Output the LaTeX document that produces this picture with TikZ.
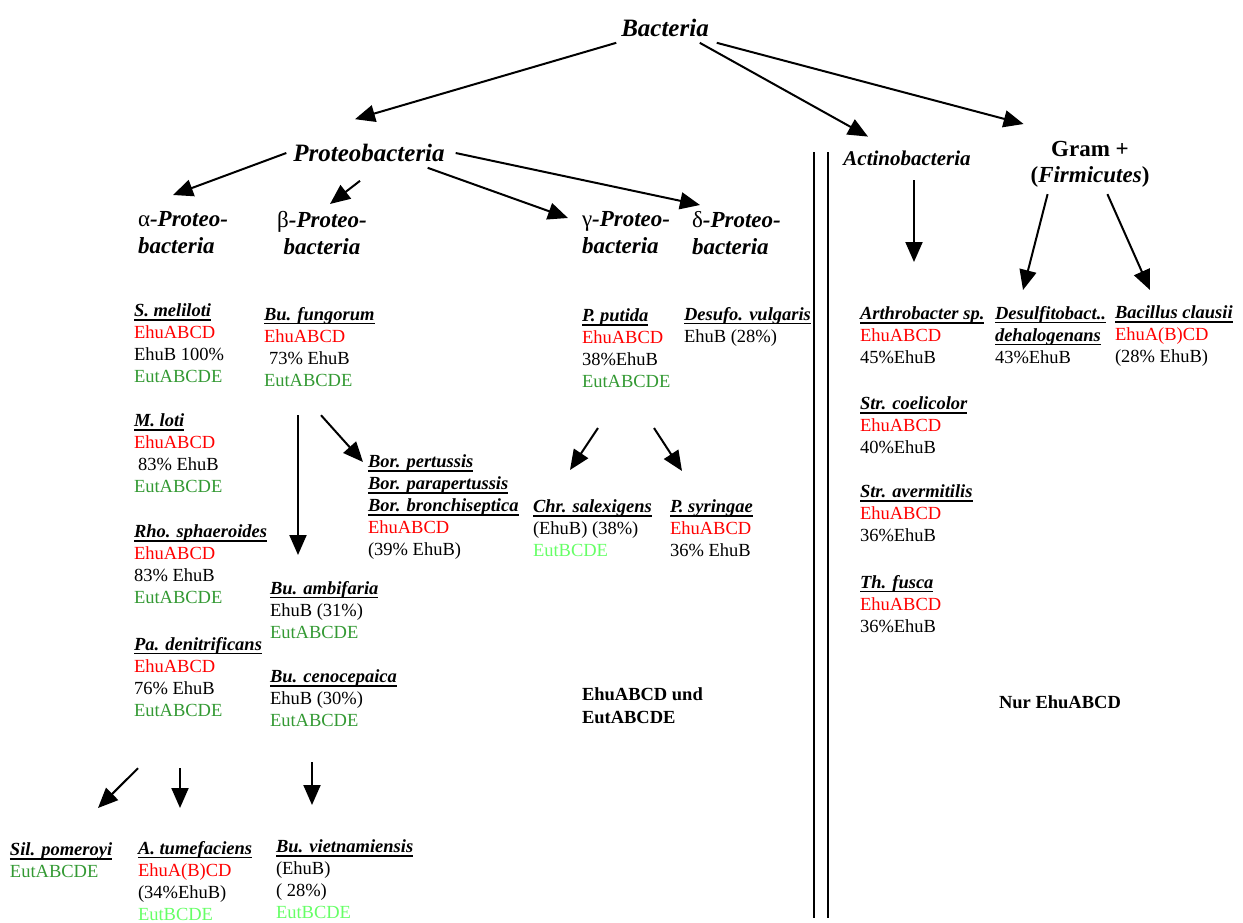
\documentclass[tikz,border=0pt]{standalone}
\usepackage{fontspec}
\setmainfont{Liberation Serif}
\usetikzlibrary{arrows.meta}

\definecolor{ehured}{RGB}{255,0,0}
\definecolor{eutgreen}{RGB}{51,153,51}
\definecolor{eutlight}{RGB}{102,255,102}

% underlined species name
\newcommand\taxon[1]{\sbox0{\bfseries\itshape #1}\rlap{\usebox0}\rule[-2.2pt]{\wd0}{0.9pt}}
\newcommand\ehu[1]{\textcolor{ehured}{#1}}
\newcommand\eut[1]{\textcolor{eutgreen}{#1}}
\newcommand\eutl[1]{\textcolor{eutlight}{#1}}

\begin{document}
\begin{tikzpicture}[x=0.5pt,y=-0.5pt]
\tikzset{ >={Triangle[length=10pt,width=8.5pt]}, inner sep=0pt, outer sep=0pt,
  arr/.style={->, line width=1pt},
  head/.style={font=\fontsize{12.5pt}{14pt}\selectfont\bfseries\itshape},
  sub/.style={font=\fontsize{11.5pt}{13.5pt}\selectfont\bfseries\itshape, align=left, anchor=north west},
  org/.style={font=\fontsize{9.25pt}{11pt}\selectfont, align=left, anchor=north west},
}
\useasboundingbox (0,0) rectangle (1243,922);

% phyla
\node [head] (bact)   at (665,28)  {Bacteria};
\node [head] (proteo) at (369,153) {Proteobacteria};
\node [font=\fontsize{10.5pt}{12pt}\selectfont\bfseries\itshape] (actino) at (907,158) {Actinobacteria};
\node [font=\fontsize{11.5pt}{13pt}\selectfont\bfseries, align=center, anchor=north] (gram) at (1090,141) {Gram +\\(\textit{Firmicutes})};

\node [sub] (alpha) at (138,211) {{\normalfont α}-Proteo-\\bacteria};
\node [sub, align=center, anchor=north] (beta) at (322,211) {{\normalfont β}-Proteo-\\bacteria};
\node [sub] (gamma) at (582,211) {{\normalfont γ}-Proteo-\\bacteria};
\node [sub] (delta) at (692,211) {{\normalfont δ}-Proteo-\\bacteria};

% alpha
\node [org] (smel) at (134,304) {\taxon{S. meliloti}\\\ehu{EhuABCD}\\EhuB 100\%\\\eut{EutABCDE}};
\node [org] (mloti) at (134,414) {\taxon{M. loti}\\\ehu{EhuABCD}\\\hspace{2pt}83\% EhuB\\\eut{EutABCDE}};
\node [org] (rho) at (134,525) {\taxon{Rho. sphaeroides}\\\ehu{EhuABCD}\\83\% EhuB\\\eut{EutABCDE}};
\node [org] (pad) at (134,637) {\taxon{Pa. denitrificans}\\\ehu{EhuABCD}\\76\% EhuB\\\eut{EutABCDE}};
\node [org] (sil) at (10,843) {\taxon{Sil. pomeroyi}\\\eut{EutABCDE}};
\node [org] (atum) at (138,841) {\taxon{A. tumefaciens}\\\ehu{EhuA(B)CD}\\(34\%EhuB)\\\eutl{EutBCDE}};

% beta
\node [org] (fung) at (264,307) {\taxon{Bu. fungorum}\\\ehu{EhuABCD}\\\hspace{2.5pt}73\% EhuB\\\eut{EutABCDE}};
\node [org] (bor) at (368,455) {\taxon{Bor. pertussis}\\\taxon{Bor. parapertussis}\\\taxon{Bor. bronchiseptica}\\\ehu{EhuABCD}\\(39\% EhuB)};
\node [org] (ambi) at (270,581) {\taxon{Bu. ambifaria}\\EhuB (31\%)\\\eut{EutABCDE}};
\node [org] (ceno) at (270,670) {\taxon{Bu. cenocepaica}\\EhuB (30\%)\\\eut{EutABCDE}};
\node [org] (viet) at (276,840) {\taxon{Bu. vietnamiensis}\\(EhuB)\\( 28\%)\\\eutl{EutBCDE}};

% gamma, delta
\node [org] (putida) at (582,309) {\taxon{P. putida}\\\ehu{EhuABCD}\\38\%EhuB\\\eut{EutABCDE}};
\node [org] (desufo) at (684,307) {\taxon{Desufo. vulgaris}\\EhuB (28\%)};
\node [org] (chr) at (533,500) {\taxon{Chr. salexigens}\\(EhuB) (38\%)\\\eutl{EutBCDE}};
\node [org] (syr) at (670,500) {\taxon{P. syringae}\\\ehu{EhuABCD}\\36\% EhuB};

% gram positives
\node [org] (arthro) at (860,307) {\taxon{Arthrobacter sp.}\\\ehu{EhuABCD}\\45\%EhuB};
\node [org] (coeli) at (860,397) {\taxon{Str. coelicolor}\\\ehu{EhuABCD}\\40\%EhuB};
\node [org] (averm) at (860,485) {\taxon{Str. avermitilis}\\\ehu{EhuABCD}\\36\%EhuB};
\node [org] (fusca) at (860,575) {\taxon{Th. fusca}\\\ehu{EhuABCD}\\36\%EhuB};
\node [org] (desulf) at (995,306) {\taxon{Desulfitobact..}\\\taxon{dehalogenans}\\43\%EhuB};
\node [org] (bacil) at (1115,306) {\taxon{Bacillus clausii}\\\ehu{EhuA(B)CD}\\(28\% EhuB)};

\node [org, font=\fontsize{9.25pt}{11.5pt}\selectfont\bfseries] (both) at (582,688) {EhuABCD und\\EutABCDE};
\node [font=\fontsize{9.25pt}{11pt}\selectfont\bfseries] (only) at (1060,702) {Nur EhuABCD};

% arrows
\draw [arr] ([shift={(-5,6)}]bact.south west) -- ([shift={(-14,-25)}]proteo.north);
\draw [arr] ([shift={(-9,6)}]bact.south east) -- ([shift={(-39,-14)}]actino.north);
\draw [arr] ([shift={(8,6)}]bact.south east)  -- ([shift={(-7,-17)}]gram.north west);

\draw [arr] ([shift={(-7,0)}]proteo.west)       -- ([shift={(-10,-16)}]alpha.north);
\draw [arr] ([shift={(-9,19)}]proteo.south)     -- ([shift={(8,-7)}]beta.north);
\draw [arr] ([shift={(-17,6)}]proteo.south east) -- ([shift={(-14,7)}]gamma.north west);
\draw [arr] ([shift={(11,0)}]proteo.east)       -- ([shift={(8,-6)}]delta.north west);

\draw [arr] ([shift={(7,15)}]actino.south)      -- ([shift={(54,-45)}]arthro.north west);
\draw [arr] ([shift={(17,7)}]gram.south west)   -- ([shift={(28,-16)}]desulf.north west);
\draw [arr] ([shift={(-42,7)}]gram.south east)  -- ([shift={(35,-16)}]bacil.north west);

\draw [arr] ([shift={(34,29)}]fung.south west)  -- ([shift={(28,-26)}]ambi.north west);
\draw [arr] ([shift={(57,29)}]fung.south west)  -- ([shift={(-5,7)}]bor.north west);
\draw [arr] ([shift={(16,40)}]putida.south west) -- ([shift={(37,-30)}]chr.north west);
\draw [arr] ([shift={(72,40)}]putida.south west) -- ([shift={(12,-29)}]syr.north west);
\draw [arr] ([shift={(4,52)}]pad.south west)    -- ([shift={(88,-35)}]sil.north west);
\draw [arr] ([shift={(46,52)}]pad.south west)   -- ([shift={(42,-33)}]atum.north west);
\draw [arr] ([shift={(42,35)}]ceno.south west)  -- ([shift={(36,-35)}]viet.north west);

% divider
\draw [line width=1pt] (814,152) -- (814,918);
\draw [line width=1pt] (828,152) -- (828,918);

\end{tikzpicture}
\end{document}
